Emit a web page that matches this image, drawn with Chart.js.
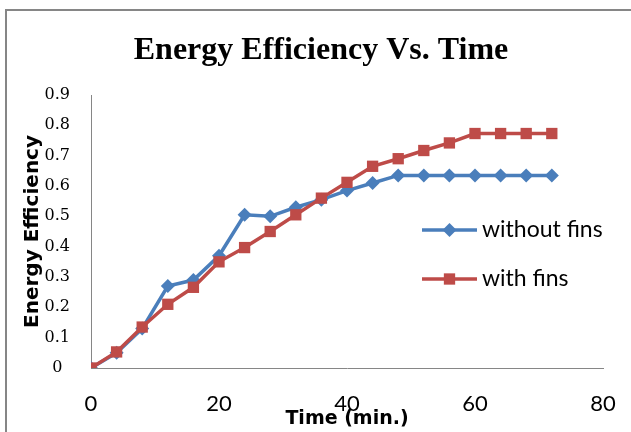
<!DOCTYPE html>
<html>
<head>
<meta charset="utf-8">
<script src="https://cdn.jsdelivr.net/npm/chart.js@4/dist/chart.umd.min.js"></script>
<style>
	body{margin:0;background:#fff;}
	canvas{display:block;}
</style>
</head>
<body>
<canvas id="chart" width="631" height="432"></canvas>
<script>
(function(){
	'use strict';

	// time in minutes
	var times = [0,4,8,12,16,20,24,28,32,36,40,44,48,52,56,60,64,68,72];

	var withoutFins = [0,0.05,0.13,0.27,0.29,0.37,0.505,0.5,0.53,0.555,0.585,0.61,0.635,0.635,0.635,0.635,0.635,0.635,0.635];
	var withFins = [0,0.053,0.135,0.21,0.266,0.35,0.397,0.45,0.505,0.56,0.612,0.665,0.69,0.717,0.742,0.773,0.773,0.773,0.773];

	var seriesNames = ['without fins','with fins'];
	var xTickLabels = ['0','20','40','60','80'];
	var yTickLabels = ['0','0.1','0.2','0.3','0.4','0.5','0.6','0.7','0.8','0.9'];

	var chartTitle = 'Energy Efficiency Vs. Time';
	var xTitle = 'Time (min.)';
	var yTitle = 'Energy Efficiency';

	var BLUE = '#4a7ebb';
	var RED = '#be4b48';
	var AXIS = '#868686';

	function points(ys){
		return ys.map(function(y, i){ return {x: times[i], y: y}; });
	}

	// frame, title and legend
	var decor = {
		id: 'decor',
		beforeDraw: function(chart){
			var ctx = chart.ctx;
			ctx.save();
			ctx.strokeStyle = AXIS;
			ctx.lineWidth = 2;
			ctx.strokeRect(6, 10, 700, 500);
			ctx.restore();
		},
		afterDraw: function(chart){
			var ctx = chart.ctx;
			ctx.save();
			ctx.fillStyle = '#000';
			ctx.font = 'bold 32px "Liberation Serif"';
			ctx.textAlign = 'center';
			ctx.textBaseline = 'middle';
			ctx.fillText(chartTitle, 321, 51);

			// legend
			var rows = [230, 279];
			chart.data.datasets.forEach(function(ds, i){
				var y = rows[i];
				ctx.strokeStyle = ds.borderColor;
				ctx.lineWidth = ds.borderWidth;
				ctx.beginPath();
				ctx.moveTo(422, y);
				ctx.lineTo(477, y);
				ctx.stroke();
				ctx.fillStyle = ds.pointBackgroundColor;
				Chart.helpers.drawPoint(ctx, {pointStyle: ds.pointStyle, radius: ds.pointRadius, borderWidth: 0}, 449.5, y);
				ctx.fillStyle = '#000';
				ctx.font = '23px Lato';
				ctx.textAlign = 'left';
				ctx.textBaseline = 'middle';
				ctx.fillText(ds.label, 482, y);
			});
			ctx.restore();
		}
	};

	new Chart(document.getElementById('chart'), {
		type: 'line',
		data: {
			datasets: [
				{
					label: seriesNames[0],
					data: points(withoutFins),
					borderColor: BLUE,
					backgroundColor: BLUE,
					pointBackgroundColor: BLUE,
					pointBorderColor: BLUE,
					borderWidth: 3.5,
					pointStyle: 'rectRot',
					pointRadius: 7,
					pointBorderWidth: 0,
					tension: 0,
					order: 1
				},
				{
					label: seriesNames[1],
					data: points(withFins),
					borderColor: RED,
					backgroundColor: RED,
					pointBackgroundColor: RED,
					pointBorderColor: RED,
					borderWidth: 3.5,
					pointStyle: 'rect',
					pointRadius: 8,
					pointBorderWidth: 0,
					tension: 0,
					order: 0
				}
			]
		},
		options: {
			responsive: false,
			animation: false,
			devicePixelRatio: 1,
			layout: {padding: {top: 95, right: 28, left: 0, bottom: 0}},
			plugins: {
				legend: {display: false},
				title: {display: false},
				tooltip: {enabled: false}
			},
			scales: {
				x: {
					type: 'linear',
					min: 0,
					max: 80,
					grid: {display: false},
					border: {display: true, color: AXIS, width: 1},
					ticks: {
						stepSize: 20,
						color: '#000',
						font: {family: 'Lato', size: 22},
						padding: 15,
						maxRotation: 0,
						callback: function(v, i){ return xTickLabels[i]; }
					},
					title: {
						display: true,
						text: xTitle,
						color: '#000',
						font: {family: 'DejaVu Sans', size: 19, weight: 'bold'},
						padding: {top: 0, bottom: 2}
					},
					afterFit: function(s){ s.height = 64; }
				},
				y: {
					min: 0,
					max: 0.9,
					grid: {display: false},
					border: {display: true, color: AXIS, width: 1},
					ticks: {
						stepSize: 0.1,
						color: '#000',
						font: {family: 'DejaVu Serif', size: 16},
						padding: 13,
						crossAlign: 'center',
						callback: function(v, i){ return yTickLabels[i]; }
					},
					title: {
						display: true,
						text: yTitle,
						color: '#000',
						font: {family: 'DejaVu Sans', size: 20, weight: 'bold'},
						padding: {top: 21, bottom: 0}
					},
					afterFit: function(s){ s.width = 91; }
				}
			}
		},
		plugins: [decor]
	});
})();
</script>
</body>
</html>
